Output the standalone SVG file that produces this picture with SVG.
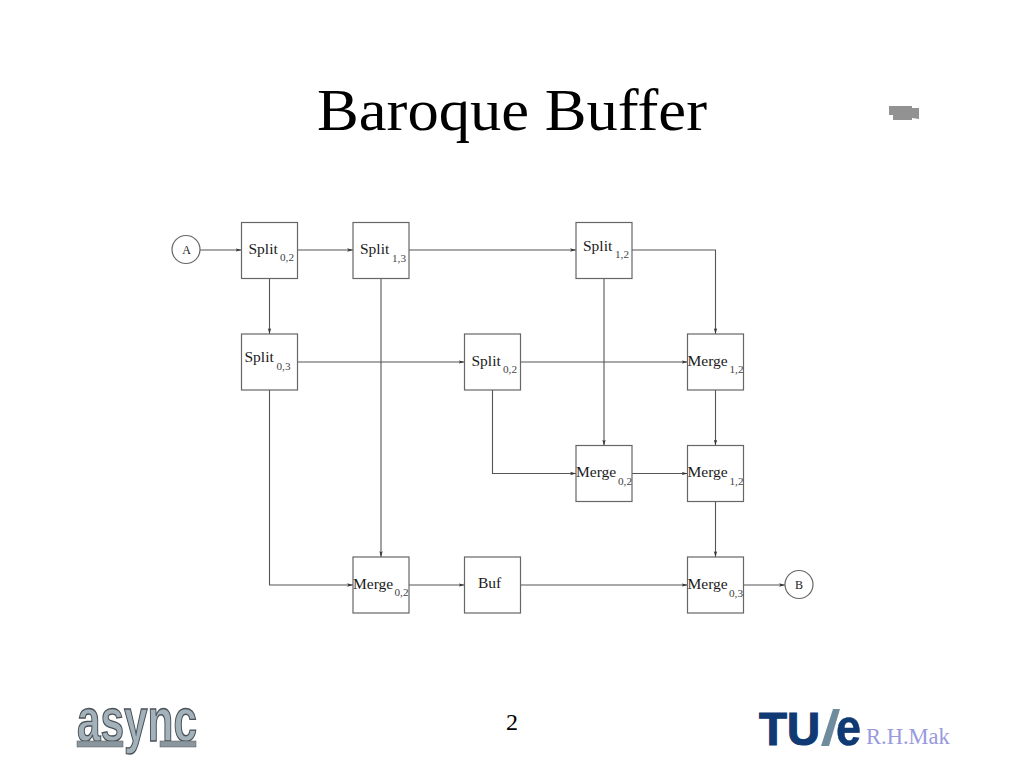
<svg xmlns="http://www.w3.org/2000/svg" width="1024" height="768" viewBox="0 0 1024 768">
<style>
text{font-family:"Liberation Serif","Times New Roman",serif;fill:#1a1a1a}
.box{fill:#fff;stroke:#666;stroke-width:1.200}
.lbl{font-size:15.500px}
.sub{font-size:11.200px;fill:#444}
.c{fill:none;stroke:#555;stroke-width:1.100;marker-end:url(#ah)}
.logo{font-family:"Liberation Sans",sans-serif;font-weight:700}
</style>
<defs>
<marker id="ah" markerUnits="userSpaceOnUse" markerWidth="7" markerHeight="6" refX="6" refY="2.500" orient="auto"><path d="M0,0.800 L6,2.500 L0,4.200 L1.500,2.500 Z" fill="#333"/></marker>
</defs>
<rect width="1024" height="768" fill="#fff"/>
<text x="512" y="130" font-size="60" text-anchor="middle" style="fill:#000" textLength="390" lengthAdjust="spacingAndGlyphs">Baroque Buffer</text>
<g id="camera" fill="#929292"><path d="M889,106 H912 V108 H919 V119 L912,118 V120 H893 V115 H889 Z"/></g>
<g id="connectors">
<path class="c" d="M200,250 H241.500"/>
<path class="c" d="M297.500,250 H353"/>
<path class="c" d="M409,250 H576"/>
<path class="c" d="M632,250 H715.500 V334"/>
<path class="c" d="M269.500,278 V334"/>
<path class="c" d="M381,278 V557"/>
<path class="c" d="M604,278 V445.500"/>
<path class="c" d="M297.500,362 H464.500"/>
<path class="c" d="M520.500,362 H687.500"/>
<path class="c" d="M492.500,390 V473.500 H576"/>
<path class="c" d="M715.500,390 V445.500"/>
<path class="c" d="M632,473.500 H687.500"/>
<path class="c" d="M715.500,501.500 V557"/>
<path class="c" d="M269.500,390 V585 H353"/>
<path class="c" d="M409,585 H464.500"/>
<path class="c" d="M520.500,585 H687.500"/>
<path class="c" d="M743.500,585 H785"/>
</g>
<g id="node-a"><circle class="box" cx="186" cy="249.500" r="14"/><text x="186.500" y="254" font-size="12" text-anchor="middle">A</text></g>
<g id="node-b"><circle class="box" cx="799" cy="584.500" r="14"/><text x="799" y="589" font-size="12" text-anchor="middle">B</text></g>
<g id="split02a"><rect class="box" x="241.500" y="222.500" width="56" height="56"/><text class="lbl" x="248.500" y="254">Split</text><text class="sub" x="280" y="261">0,2</text></g>
<g id="split13"><rect class="box" x="353" y="222.500" width="56" height="56"/><text class="lbl" x="360" y="254">Split</text><text class="sub" x="392" y="262">1,3</text></g>
<g id="split12"><rect class="box" x="576" y="222.500" width="56" height="56"/><text class="lbl" x="583" y="251">Split</text><text class="sub" x="615" y="258">1,2</text></g>
<g id="split03"><rect class="box" x="241.500" y="334" width="56" height="56"/><text class="lbl" x="244.500" y="362">Split</text><text class="sub" x="276.500" y="370">0,3</text></g>
<g id="split02b"><rect class="box" x="464.500" y="334" width="56" height="56"/><text class="lbl" x="471.500" y="366">Split</text><text class="sub" x="503" y="373">0,2</text></g>
<g id="merge12a"><rect class="box" x="687.500" y="334" width="56" height="56"/><text class="lbl" x="687.500" y="366">Merge</text><text class="sub" x="729.500" y="373">1,2</text></g>
<g id="merge02a"><rect class="box" x="576" y="445.500" width="56" height="56"/><text class="lbl" x="576" y="477">Merge</text><text class="sub" x="618" y="485">0,2</text></g>
<g id="merge12b"><rect class="box" x="687.500" y="445.500" width="56" height="56"/><text class="lbl" x="687.500" y="477">Merge</text><text class="sub" x="729.500" y="485">1,2</text></g>
<g id="merge02b"><rect class="box" x="353" y="557" width="56" height="56"/><text class="lbl" x="353" y="589">Merge</text><text class="sub" x="394.500" y="596">0,2</text></g>
<g id="buf"><rect class="box" x="464.500" y="557" width="56" height="56"/><text class="lbl" x="478" y="588">Buf</text></g>
<g id="merge03"><rect class="box" x="687.500" y="557" width="56" height="56"/><text class="lbl" x="687.500" y="589">Merge</text><text class="sub" x="729" y="597">0,3</text></g>
<text x="512" y="730" font-size="24" text-anchor="middle" style="fill:#000">2</text>
<g id="async-logo"><text class="logo" x="77" y="741" font-size="62" textLength="120" lengthAdjust="spacingAndGlyphs" style="fill:#a3b1ba;stroke:#4a5258;stroke-width:1.400">async</text><rect x="77" y="741" width="46" height="6" fill="#8a969e" stroke="#555" stroke-width=".5"/><rect x="160" y="741" width="36" height="6" fill="#8a969e" stroke="#555" stroke-width=".5"/></g>
<g id="tue-logo"><text class="logo" x="759" y="745" font-size="47" textLength="61" lengthAdjust="spacingAndGlyphs" style="fill:#0f3a73;stroke:#0f3a73;stroke-width:1.200">TU</text><path d="M821,746 L829,746 L840,709 L833,709 Z" fill="#6f8b9e"/><text class="logo" x="836" y="745" font-size="52" textLength="25" lengthAdjust="spacingAndGlyphs" style="fill:#0f3a73;stroke:#0f3a73;stroke-width:.6">e</text><text x="866" y="744" font-size="22.500" style="fill:#9999dd">R.H.Mak</text></g>
</svg>
